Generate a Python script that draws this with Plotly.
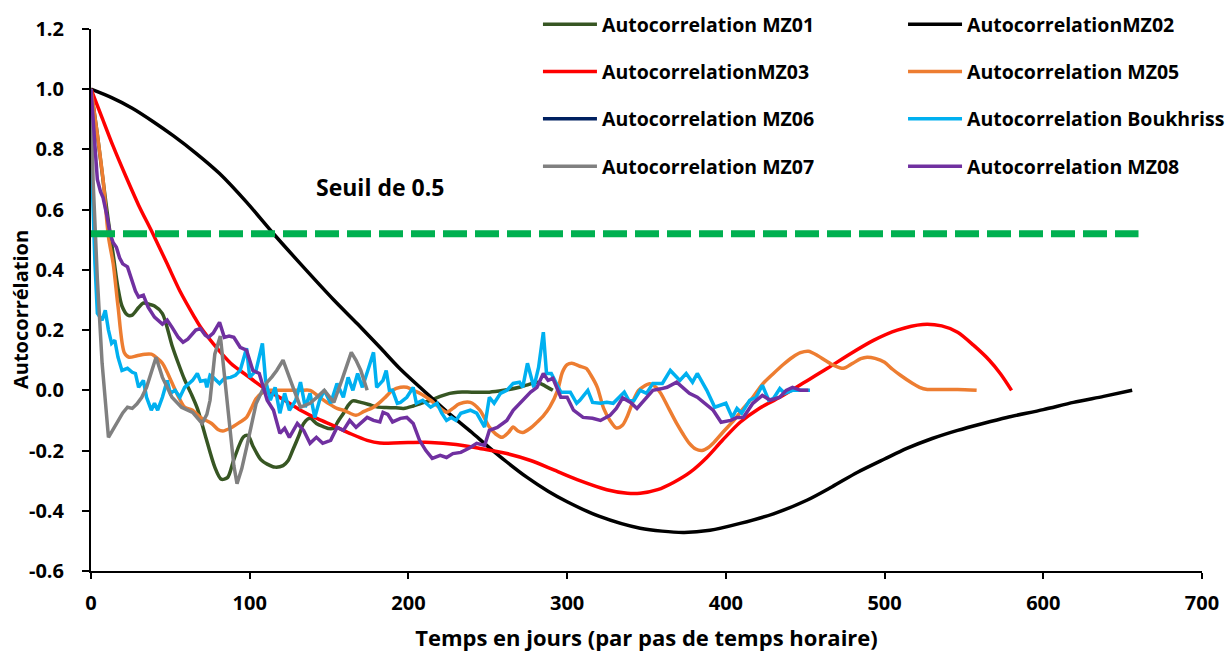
import plotly.graph_objects as go

# ---------------- data ----------------
MZ01_X = [0, 4, 8, 11, 14, 17, 19.5, 23, 26, 30, 33, 37, 40, 45, 51, 55, 59, 63, 67, 72, 78, 82, 86, 90, 96, 99, 102, 107, 111, 116, 121, 124, 127, 131, 134, 138, 142, 146, 150, 153, 156, 159, 162, 165, 170, 175, 180, 186, 192, 197, 203, 208, 214, 220, 226, 231, 240, 251, 260, 270, 276, 281, 286, 291]
MZ01_Y = [1.0, 0.85, 0.68, 0.56, 0.45, 0.34, 0.28, 0.25, 0.25, 0.275, 0.29, 0.285, 0.28, 0.255, 0.15, 0.09, 0.035, -0.01, -0.06, -0.15, -0.255, -0.295, -0.29, -0.23, -0.155, -0.15, -0.185, -0.23, -0.245, -0.255, -0.25, -0.235, -0.2, -0.15, -0.11, -0.093, -0.11, -0.12, -0.127, -0.125, -0.1, -0.077, -0.05, -0.035, -0.04, -0.047, -0.055, -0.057, -0.058, -0.06, -0.052, -0.043, -0.033, -0.02, -0.01, -0.006, -0.006, -0.006, 0.0, 0.01, 0.02, 0.027, 0.015, 0.0]

MZ02_X = [0, 13, 26, 39, 52, 66, 81, 98, 115, 132, 153, 168, 182, 195, 210, 224, 240, 250, 262, 275, 288, 300, 320, 346, 373, 390, 409, 430, 451, 467, 483, 500, 514, 530, 546, 562, 577, 600, 619, 638, 656]
MZ02_Y = [1.0, 0.972, 0.937, 0.893, 0.845, 0.788, 0.72, 0.625, 0.52, 0.42, 0.30, 0.22, 0.143, 0.07, -0.003, -0.07, -0.14, -0.186, -0.238, -0.29, -0.335, -0.37, -0.418, -0.458, -0.472, -0.465, -0.442, -0.41, -0.365, -0.32, -0.272, -0.228, -0.193, -0.16, -0.133, -0.11, -0.09, -0.064, -0.04, -0.02, 0.0]

MZ03_X = [0, 7, 14, 22, 30, 39, 48, 56, 65, 69, 77, 88, 98, 111, 121, 132, 143, 153, 164, 174, 182, 195, 214, 230, 245, 262, 277, 292, 308, 325, 338, 346, 357, 367, 378, 388, 398, 409, 421, 434, 449, 464, 478, 493, 508, 524, 536, 546, 556, 566, 573, 580]
MZ03_Y = [1.0, 0.905, 0.81, 0.71, 0.615, 0.52, 0.42, 0.33, 0.245, 0.21, 0.155, 0.09, 0.05, 0.0, -0.03, -0.066, -0.095, -0.118, -0.145, -0.166, -0.175, -0.174, -0.173, -0.18, -0.193, -0.21, -0.233, -0.265, -0.30, -0.33, -0.342, -0.342, -0.33, -0.306, -0.27, -0.223, -0.165, -0.106, -0.06, -0.023, 0.025, 0.073, 0.12, 0.166, 0.2, 0.219, 0.214, 0.193, 0.15, 0.1, 0.055, 0.0]

MZ05_X = [0, 4, 7.6, 11, 14, 17, 21, 24, 29, 34, 38, 42, 45, 48, 51, 55, 59, 64, 69, 76, 80, 83, 88, 94, 98, 101, 104, 108, 113, 120, 132, 138, 144, 150, 155, 160, 167, 172, 178, 182, 186, 190, 195, 199, 203, 208, 214, 219, 224, 228, 232, 239, 245, 251, 255, 259, 263, 266, 269, 272, 277, 281, 285, 289, 294, 297, 300, 303, 308, 312, 315, 319, 323, 327, 331, 335, 338, 342, 345, 348, 352, 356, 359, 364, 369, 373, 377, 381, 385, 389, 392, 398, 405, 411, 417, 423, 430, 436, 442, 447, 452, 458, 463, 468, 474, 480, 485, 489, 494, 500, 505, 510, 517, 522, 527, 535, 546, 558]
MZ05_Y = [1.0, 0.85, 0.7, 0.51, 0.42, 0.28, 0.125, 0.11, 0.115, 0.12, 0.12, 0.105, 0.09, 0.06, 0.025, -0.02, -0.056, -0.066, -0.09, -0.11, -0.13, -0.135, -0.125, -0.105, -0.09, -0.06, -0.028, -0.008, 0.0, 0.0, 0.0, 0.0, -0.023, -0.045, -0.06, -0.068, -0.083, -0.07, -0.056, -0.04, -0.02, 0.0, 0.01, 0.01, 0.0, -0.012, -0.033, -0.055, -0.073, -0.06, -0.045, -0.04, -0.066, -0.122, -0.145, -0.156, -0.14, -0.122, -0.135, -0.14, -0.125, -0.106, -0.085, -0.056, 0.0, 0.06, 0.085, 0.09, 0.08, 0.073, 0.05, 0.01, -0.06, -0.1, -0.125, -0.115, -0.085, -0.03, 0.0, 0.012, 0.022, 0.01, -0.01, -0.06, -0.11, -0.145, -0.176, -0.195, -0.2, -0.19, -0.176, -0.14, -0.1, -0.06, -0.023, 0.02, 0.056, 0.085, 0.11, 0.125, 0.13, 0.115, 0.098, 0.083, 0.073, 0.09, 0.105, 0.11, 0.106, 0.093, 0.07, 0.05, 0.025, 0.01, 0.003, 0.003, 0.003, 0.0]

MZ06_X = [0]
MZ06_Y = [1.0]

BOUK_X = [0, 0.7, 2.5, 4, 7, 9, 11, 13, 15, 17, 19.5, 23, 26, 28, 30, 33, 35, 38, 40, 42, 45, 48, 50, 53, 56, 59, 64, 67, 69, 72, 73, 75, 77, 81, 84, 88, 91, 94, 98, 100, 104, 108, 110, 113, 116, 119, 122, 125, 129, 132, 135, 138, 141, 144, 147, 151, 155, 159, 162, 165, 168, 171, 175, 178, 180, 184, 186, 188, 190, 193, 195, 199, 203, 205, 209, 214, 218, 221, 224, 227, 230, 233, 239, 243, 248, 251, 254, 258, 262, 266, 270, 272, 275, 279, 282, 285, 287, 290, 296, 302, 306, 308, 313, 316, 321, 325, 329, 333, 336, 339, 342, 346, 350, 354, 360, 365, 371, 375, 379, 382, 388, 393, 400, 404, 407, 410, 415, 419, 423, 427, 430, 434, 437, 442, 447, 453]
BOUK_Y = [1.0, 0.7, 0.42, 0.256, 0.233, 0.266, 0.2, 0.156, 0.166, 0.11, 0.066, 0.073, 0.06, 0.056, 0.01, 0.033, -0.023, -0.066, -0.043, -0.066, -0.023, 0.033, -0.01, 0.0, -0.023, 0.01, 0.033, 0.056, 0.03, 0.033, 0.01, 0.05, 0.043, 0.023, 0.04, 0.043, 0.05, 0.066, 0.14, 0.043, 0.066, 0.156, 0.033, -0.033, 0.01, -0.076, -0.01, -0.066, -0.033, 0.027, -0.056, -0.01, -0.09, -0.033, 0.0, -0.043, 0.023, -0.023, 0.043, 0.0, 0.056, 0.01, 0.076, 0.126, 0.01, 0.033, 0.066, 0.0, 0.0, -0.043, -0.04, -0.023, 0.01, -0.043, -0.033, -0.056, -0.043, -0.076, -0.1, -0.09, -0.1, -0.076, -0.066, -0.076, -0.122, -0.023, -0.043, -0.01, 0.0, 0.023, 0.027, 0.01, 0.09, 0.01, 0.076, 0.193, 0.056, 0.056, -0.006, -0.006, -0.043, -0.033, 0.0, -0.04, -0.043, -0.04, -0.043, -0.02, -0.006, -0.035, -0.035, 0.0, -0.01, 0.023, 0.023, 0.066, 0.033, 0.056, 0.027, 0.056, 0.0, -0.056, -0.043, -0.09, -0.06, -0.076, -0.033, -0.023, 0.017, -0.033, -0.027, 0.006, -0.01, 0.0, 0.0, 0.0]

MZ07_X = [0, 1.3, 4, 7, 11, 14, 17, 20, 23, 26, 29, 32, 35, 37, 41, 45, 48, 51, 57, 64, 70, 73, 75, 78, 81.5, 84, 87, 90, 92, 95, 98, 101, 104, 108, 111, 114, 117, 121, 125, 128, 132, 138, 143, 147, 150, 153, 158, 161, 164, 167, 170, 174]
MZ07_Y = [1.0, 0.7, 0.37, 0.09, -0.156, -0.13, -0.1, -0.075, -0.056, -0.06, -0.045, -0.023, 0.01, 0.043, 0.11, 0.043, 0.01, -0.023, -0.056, -0.073, -0.11, -0.08, -0.033, 0.12, 0.18, 0.05, -0.1, -0.25, -0.31, -0.26, -0.19, -0.11, -0.045, 0.0, 0.027, 0.045, 0.066, 0.1, 0.04, 0.0, -0.056, -0.043, -0.02, 0.0, -0.02, -0.04, 0.033, 0.08, 0.126, 0.1, 0.066, 0.0]

MZ08_X = [0, 2, 4, 6, 7.6, 10, 12, 14, 16, 18, 20, 23, 26, 28, 30, 33, 36, 40, 45, 48, 51, 55, 58, 61, 66, 69, 72, 74, 77, 81, 84, 87, 90, 94, 98, 102, 106, 111, 115, 119, 122, 125, 130, 134, 138, 142, 146, 151, 155, 159, 163, 167, 174, 178, 182, 184, 187, 190, 195, 199, 203, 207, 211, 215, 220, 224, 228, 233, 239, 243, 248, 251, 256, 262, 266, 270, 274, 277, 281, 285, 288, 291, 296, 300, 304, 310, 316, 321, 327, 331, 335, 340, 344, 349, 354, 359, 363, 369, 373, 377, 382, 386, 392, 397, 403, 407, 411, 417, 423, 428, 434, 438, 442, 447, 452]
MZ08_Y = [1.0, 0.85, 0.7, 0.66, 0.64, 0.58, 0.52, 0.49, 0.475, 0.44, 0.42, 0.41, 0.36, 0.33, 0.31, 0.316, 0.276, 0.243, 0.22, 0.233, 0.21, 0.176, 0.16, 0.17, 0.2, 0.205, 0.183, 0.176, 0.19, 0.226, 0.176, 0.18, 0.176, 0.143, 0.133, 0.066, 0.056, -0.033, -0.066, -0.143, -0.126, -0.156, -0.11, -0.133, -0.176, -0.156, -0.176, -0.166, -0.123, -0.133, -0.1, -0.123, -0.09, -0.1, -0.105, -0.073, -0.08, -0.105, -0.093, -0.09, -0.11, -0.166, -0.2, -0.226, -0.216, -0.223, -0.21, -0.206, -0.19, -0.176, -0.183, -0.133, -0.123, -0.1, -0.066, -0.043, -0.02, -0.006, 0.01, 0.056, 0.033, 0.04, -0.023, -0.023, -0.066, -0.09, -0.093, -0.1, -0.083, -0.06, -0.025, -0.04, -0.06, -0.03, 0.0, 0.005, 0.01, 0.027, 0.01, -0.01, -0.023, -0.04, -0.066, -0.106, -0.1, -0.09, -0.09, -0.043, -0.017, -0.033, -0.023, 0.0, 0.01, 0.0, 0.0]

SEUIL_X = [0, 660]
SEUIL_Y = [0.52, 0.52]

X_TICKS = [0, 100, 200, 300, 400, 500, 600, 700]
Y_TICKS = [-0.6, -0.4, -0.2, 0.0, 0.2, 0.4, 0.6, 0.8, 1.0, 1.2]
Y_TICK_LABELS = ["-0.6", "-0.4", "-0.2", "0.0", "0.2", "0.4", "0.6", "0.8", "1.0", "1.2"]

FONT = "Open Sans"

series = [
    ("Autocorrelation MZ01", MZ01_X, MZ01_Y, "#375623", "spline", "legend"),
    ("AutocorrelationMZ02", MZ02_X, MZ02_Y, "#000000", "spline", "legend2"),
    ("AutocorrelationMZ03", MZ03_X, MZ03_Y, "#FF0000", "spline", "legend"),
    ("Autocorrelation MZ05", MZ05_X, MZ05_Y, "#ED7D31", "spline", "legend2"),
    ("Autocorrelation MZ06", MZ06_X, MZ06_Y, "#002060", "linear", "legend"),
    ("Autocorrelation Boukhriss", BOUK_X, BOUK_Y, "#00B0F0", "linear", "legend2"),
    ("Autocorrelation MZ07", MZ07_X, MZ07_Y, "#808080", "linear", "legend"),
    ("Autocorrelation MZ08", MZ08_X, MZ08_Y, "#7030A0", "linear", "legend2"),
]

fig = go.Figure()
for i, (name, xs, ys, col, shape, leg) in enumerate(series):
    line = dict(color=col, width=3.5, shape=shape)
    if shape == "spline":
        line["smoothing"] = 0.8
    fig.add_trace(go.Scatter(x=xs, y=ys, mode="lines", name=name, line=line,
                             legend=leg, legendgroup="g%d" % i))

fig.add_trace(go.Scatter(x=SEUIL_X, y=SEUIL_Y, mode="lines", showlegend=False,
                         line=dict(color="#00B050", width=7, dash="24px,8px"),
                         hoverinfo="skip"))

fig.add_annotation(x=182, y=0.674, xref="x", yref="y", text="Seuil de 0.5",
                   showarrow=False, font=dict(family=FONT, size=23, color="#000000", weight="bold"))

# y-axis title placed as a rotated annotation for exact positioning
fig.add_annotation(x=-0.0639, y=0.4815, xref="paper", yref="paper", text="Autocorrélation",
                   textangle=-90, showarrow=False, xanchor="center", yanchor="middle",
                   font=dict(family=FONT, size=20, color="#000000", weight="bold"))

legend_common = dict(orientation="v", xanchor="left", yanchor="top", bgcolor="rgba(0,0,0,0)",
                     font=dict(family=FONT, size=19.5, color="#000000", weight="bold"),
                     tracegroupgap=19, borderwidth=0, itemwidth=54)

fig.update_layout(
    width=1228, height=652,
    margin=dict(l=91, r=26, t=29, b=81, autoexpand=False),
    paper_bgcolor="white", plot_bgcolor="white",
    font=dict(family=FONT, color="#000000"),
    legend=dict(x=0.4023, y=1.0443, **legend_common),
    legend2=dict(x=0.7309, y=1.0443, **legend_common),
    xaxis=dict(range=[0, 700], tickvals=X_TICKS, showgrid=False, zeroline=False,
               showline=True, linecolor="#000000", linewidth=2,
               ticks="outside", ticklen=6, tickwidth=2, tickcolor="#000000",
               ticklabelstandoff=7, automargin=False,
               tickfont=dict(family=FONT, size=20, color="#000000", weight="bold"),
               title=dict(text="Temps en jours (par pas de temps horaire)", standoff=18,
                          font=dict(family=FONT, size=22, color="#000000", weight="bold"))),
    yaxis=dict(range=[-0.6, 1.2], tickvals=Y_TICKS, ticktext=Y_TICK_LABELS, showgrid=False, zeroline=False,
               showline=True, linecolor="#000000", linewidth=2,
               ticks="outside", ticklen=7, tickwidth=2, tickcolor="#000000",
               ticklabelstandoff=14, automargin=False,
               tickfont=dict(family=FONT, size=20, color="#000000", weight="bold")),
)

fig.write_html("out.html", config={"displayModeBar": False},
               post_script="document.body.style.margin='0px';document.body.style.padding='0px';")
